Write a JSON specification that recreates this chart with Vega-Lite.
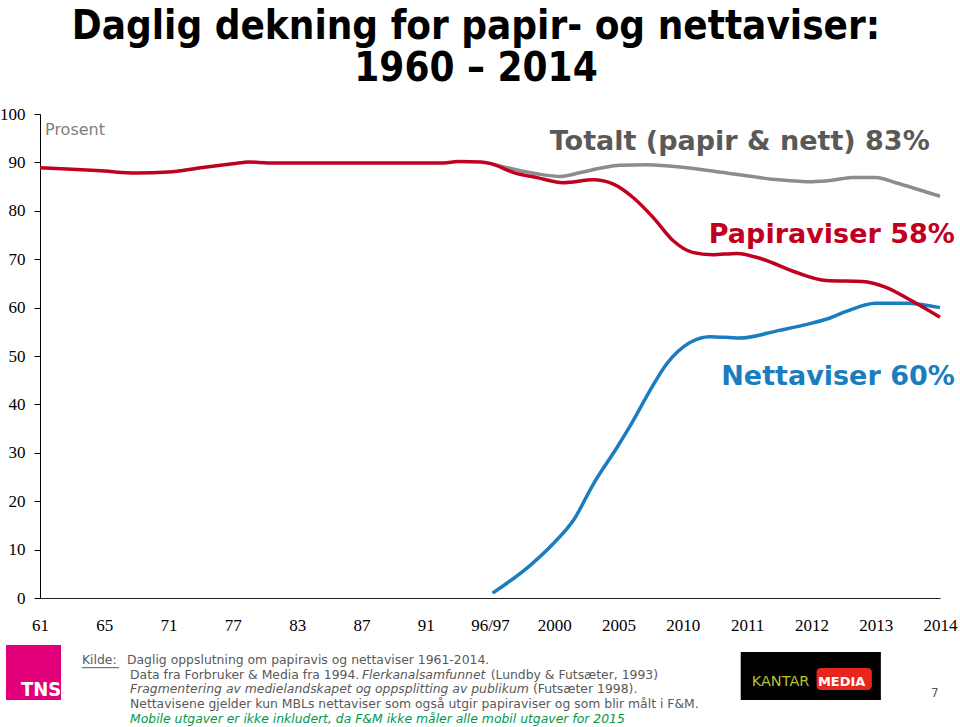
{
  "$schema": "https://vega.github.io/schema/vega-lite/v6.json",
  "width": 900,
  "height": 484,
  "autosize": {"type": "none"},
  "padding": {"left": 40, "top": 114, "right": 20, "bottom": 129},
  "background": "white",
  "config": {"view": {"stroke": null}, "axis": {"grid": false}},
  "title": {
    "text": ["Daglig dekning for papir- og nettaviser:", "1960 – 2014"],
    "anchor": "middle",
    "font": "DejaVu Sans Condensed",
    "fontSize": 40,
    "fontWeight": "bold",
    "color": "black",
    "lineHeight": 42,
    "offset": 16,
    "dx": -14
  },
  "datasets": {
    "series": [
      {"s": "Papir", "x": 0, "y": 88.9},
      {"s": "Papir", "x": 0.5, "y": 88.6},
      {"s": "Papir", "x": 1.0, "y": 88.2},
      {"s": "Papir", "x": 1.49, "y": 87.8},
      {"s": "Papir", "x": 2.0, "y": 88.0},
      {"s": "Papir", "x": 2.5, "y": 88.9},
      {"s": "Papir", "x": 3.0, "y": 89.7},
      {"s": "Papir", "x": 3.25, "y": 90.1},
      {"s": "Papir", "x": 3.55, "y": 89.9},
      {"s": "Papir", "x": 4.5, "y": 89.9},
      {"s": "Papir", "x": 5.5, "y": 89.9},
      {"s": "Papir", "x": 6.28, "y": 89.9},
      {"s": "Papir", "x": 6.5, "y": 90.2},
      {"s": "Papir", "x": 6.86, "y": 90.1},
      {"s": "Papir", "x": 7.0, "y": 89.8},
      {"s": "Papir", "x": 7.37, "y": 87.9},
      {"s": "Papir", "x": 7.75, "y": 86.8},
      {"s": "Papir", "x": 8.14, "y": 85.8},
      {"s": "Papir", "x": 8.61, "y": 86.4},
      {"s": "Papir", "x": 8.92, "y": 85.5},
      {"s": "Papir", "x": 9.23, "y": 82.7},
      {"s": "Papir", "x": 9.54, "y": 78.6},
      {"s": "Papir", "x": 9.85, "y": 73.8},
      {"s": "Papir", "x": 10.15, "y": 71.4},
      {"s": "Papir", "x": 10.46, "y": 70.9},
      {"s": "Papir", "x": 10.84, "y": 71.2},
      {"s": "Papir", "x": 11.24, "y": 70.0},
      {"s": "Papir", "x": 11.76, "y": 67.3},
      {"s": "Papir", "x": 12.23, "y": 65.6},
      {"s": "Papir", "x": 12.79, "y": 65.4},
      {"s": "Papir", "x": 13.16, "y": 64.2},
      {"s": "Papir", "x": 13.56, "y": 61.4},
      {"s": "Papir", "x": 14.0, "y": 58.0},
      {"s": "Totalt", "x": 7.0, "y": 89.8},
      {"s": "Totalt", "x": 7.37, "y": 88.6},
      {"s": "Totalt", "x": 7.75, "y": 87.6},
      {"s": "Totalt", "x": 8.1, "y": 87.1},
      {"s": "Totalt", "x": 8.41, "y": 87.9},
      {"s": "Totalt", "x": 8.75, "y": 88.9},
      {"s": "Totalt", "x": 9.02, "y": 89.4},
      {"s": "Totalt", "x": 9.44, "y": 89.5},
      {"s": "Totalt", "x": 10.06, "y": 88.9},
      {"s": "Totalt", "x": 10.68, "y": 87.8},
      {"s": "Totalt", "x": 11.5, "y": 86.4},
      {"s": "Totalt", "x": 12.01, "y": 86.0},
      {"s": "Totalt", "x": 12.32, "y": 86.3},
      {"s": "Totalt", "x": 12.63, "y": 86.9},
      {"s": "Totalt", "x": 13.0, "y": 86.9},
      {"s": "Totalt", "x": 13.31, "y": 85.8},
      {"s": "Totalt", "x": 14.0, "y": 83.0},
      {"s": "Nett", "x": 7.04, "y": 1.0},
      {"s": "Nett", "x": 7.63, "y": 6.8},
      {"s": "Nett", "x": 7.99, "y": 11.3},
      {"s": "Nett", "x": 8.3, "y": 16.1},
      {"s": "Nett", "x": 8.61, "y": 23.6},
      {"s": "Nett", "x": 8.98, "y": 31.2},
      {"s": "Nett", "x": 9.23, "y": 36.7},
      {"s": "Nett", "x": 9.49, "y": 42.9},
      {"s": "Nett", "x": 9.75, "y": 48.4},
      {"s": "Nett", "x": 10.11, "y": 52.8},
      {"s": "Nett", "x": 10.42, "y": 54.0},
      {"s": "Nett", "x": 10.88, "y": 53.7},
      {"s": "Nett", "x": 11.5, "y": 55.3},
      {"s": "Nett", "x": 12.01, "y": 56.8},
      {"s": "Nett", "x": 12.28, "y": 57.8},
      {"s": "Nett", "x": 12.54, "y": 59.2},
      {"s": "Nett", "x": 13.0, "y": 60.9},
      {"s": "Nett", "x": 13.47, "y": 60.9},
      {"s": "Nett", "x": 14.0, "y": 60.0}
    ]
  },
  "layer": [
    {
      "data": {"name": "series"},
      "transform": [{"filter": "datum.s === 'Nett'"}],
      "mark": {"type": "line", "stroke": "#1a7dc0", "strokeWidth": 3.5, "interpolate": "monotone"},
      "encoding": {
        "x": {"field": "x", "type": "quantitative", "scale": {"domain": [0, 14], "nice": false, "zero": false}, "title": null,
          "axis": {"values": [0,1,2,3,4,5,6,7,8,9,10,11,12,13,14],
            "labelExpr": "['61','65','71','77','83','87','91','96/97','2000','2005','2010','2011','2012','2013','2014'][datum.value]",
            "labelFont": "Liberation Serif", "labelFontSize": 17, "labelColor": "black",
            "ticks": false, "domainColor": "#222222", "domainWidth": 1, "labelPadding": 19,
            "labelOverlap": false, "labelBound": false, "labelFlush": false, "grid": false}},
        "y": {"field": "y", "type": "quantitative", "scale": {"domain": [0, 100], "nice": false}, "title": null,
          "axis": {"values": [0,10,20,30,40,50,60,70,80,90,100],
            "labelFont": "Liberation Serif", "labelFontSize": 17, "labelColor": "black",
            "ticks": true, "tickSize": 6, "tickColor": "black", "domainColor": "black", "labelPadding": 9,
            "grid": false, "labelFlush": false, "labelBound": false, "labelOverlap": false}}
      }
    },
    {
      "data": {"name": "series"},
      "transform": [{"filter": "datum.s === 'Totalt'"}],
      "mark": {"type": "line", "stroke": "#8c8c8c", "strokeWidth": 3.5, "interpolate": "monotone"},
      "encoding": {
        "x": {"field": "x", "type": "quantitative", "title": null},
        "y": {"field": "y", "type": "quantitative", "title": null}
      }
    },
    {
      "data": {"name": "series"},
      "transform": [{"filter": "datum.s === 'Papir'"}],
      "mark": {"type": "line", "stroke": "#c00020", "strokeWidth": 3.5, "interpolate": "monotone"},
      "encoding": {
        "x": {"field": "x", "type": "quantitative", "title": null},
        "y": {"field": "y", "type": "quantitative", "title": null}
      }
    },
    {
      "data": {"values": [{}]},
      "mark": {"type": "text", "text": "Prosent", "align": "left", "baseline": "middle", "font": "DejaVu Sans", "fontSize": 16, "color": "#808080"},
      "encoding": {
        "x": {"datum": 0.078, "type": "quantitative", "title": null},
        "y": {"datum": 96.7, "type": "quantitative", "title": null}
      }
    },
    {
      "data": {"values": [{}]},
      "mark": {"type": "text", "text": "Totalt (papir & nett) 83%", "align": "right", "baseline": "middle", "font": "DejaVu Sans", "fontWeight": "bold", "fontSize": 27, "color": "#595959"},
      "encoding": {
        "x": {"datum": 13.84, "type": "quantitative", "title": null},
        "y": {"datum": 94.3, "type": "quantitative", "title": null}
      }
    },
    {
      "data": {"values": [{}]},
      "mark": {"type": "text", "text": "Papiraviser 58%", "align": "right", "baseline": "middle", "font": "DejaVu Sans", "fontWeight": "bold", "fontSize": 27, "color": "#c00020"},
      "encoding": {
        "x": {"datum": 14.23, "type": "quantitative", "title": null},
        "y": {"datum": 75.0, "type": "quantitative", "title": null}
      }
    },
    {
      "data": {"values": [{}]},
      "mark": {"type": "text", "text": "Nettaviser 60%", "align": "right", "baseline": "middle", "font": "DejaVu Sans", "fontWeight": "bold", "fontSize": 27, "color": "#1a7dc0"},
      "encoding": {
        "x": {"datum": 14.23, "type": "quantitative", "title": null},
        "y": {"datum": 45.7, "type": "quantitative", "title": null}
      }
    },
    {
      "data": {"values": [{}]},
      "mark": {"type": "rect", "fill": "#e2007a"},
      "encoding": {
        "x": {"datum": -0.529, "type": "quantitative", "title": null},
        "x2": {"datum": 0.327},
        "y": {"datum": -9.71, "type": "quantitative", "title": null},
        "y2": {"datum": -21.07}
      }
    },
    {
      "data": {"values": [{}]},
      "mark": {"type": "text", "text": "TNS", "align": "center", "baseline": "middle", "font": "DejaVu Sans Condensed", "fontWeight": "bold", "fontSize": 20, "color": "white"},
      "encoding": {
        "x": {"datum": 0.016, "type": "quantitative", "title": null},
        "y": {"datum": -19.0, "type": "quantitative", "title": null}
      }
    },
    {
      "data": {"values": [{}]},
      "mark": {"type": "text", "text": "Kilde:", "align": "left", "baseline": "middle", "font": "DejaVu Sans", "fontSize": 12.4, "color": "#595959"},
      "encoding": {
        "x": {"datum": 0.653, "type": "quantitative", "title": null},
        "y": {"datum": -12.8, "type": "quantitative", "title": null}
      }
    },
    {
      "data": {"values": [{}]},
      "mark": {"type": "rule", "stroke": "#595959", "strokeWidth": 1},
      "encoding": {
        "x": {"datum": 0.653, "type": "quantitative", "title": null},
        "x2": {"datum": 1.23},
        "y": {"datum": -14.4, "type": "quantitative", "title": null}
      }
    },
    {
      "data": {"values": [{}]},
      "mark": {"type": "text", "text": "Daglig oppslutning om papiravis og nettaviser 1961-2014.", "align": "left", "baseline": "middle", "font": "DejaVu Sans", "fontSize": 12.4, "color": "#595959"},
      "encoding": {
        "x": {"datum": 1.353, "type": "quantitative", "title": null},
        "y": {"datum": -12.8, "type": "quantitative", "title": null}
      }
    },
    {
      "data": {"values": [{}]},
      "mark": {"type": "text", "text": "Data fra Forbruker & Media fra 1994.", "align": "left", "baseline": "middle", "font": "DejaVu Sans", "fontSize": 12.4, "color": "#595959"},
      "encoding": {
        "x": {"datum": 1.4, "type": "quantitative", "title": null},
        "y": {"datum": -15.9, "type": "quantitative", "title": null}
      }
    },
    {
      "data": {"values": [{}]},
      "mark": {"type": "text", "text": "Flerkanalsamfunnet", "align": "left", "baseline": "middle", "font": "DejaVu Sans", "fontStyle": "italic", "fontSize": 12.4, "color": "#595959"},
      "encoding": {
        "x": {"datum": 5.008, "type": "quantitative", "title": null},
        "y": {"datum": -15.9, "type": "quantitative", "title": null}
      }
    },
    {
      "data": {"values": [{}]},
      "mark": {"type": "text", "text": "(Lundby & Futsæter, 1993)", "align": "left", "baseline": "middle", "font": "DejaVu Sans", "fontSize": 12.4, "color": "#595959"},
      "encoding": {
        "x": {"datum": 7.01, "type": "quantitative", "title": null},
        "y": {"datum": -15.9, "type": "quantitative", "title": null}
      }
    },
    {
      "data": {"values": [{}]},
      "mark": {"type": "text", "text": "Fragmentering av medielandskapet og oppsplitting av publikum", "align": "left", "baseline": "middle", "font": "DejaVu Sans", "fontStyle": "italic", "fontSize": 12.4, "color": "#595959"},
      "encoding": {
        "x": {"datum": 1.4, "type": "quantitative", "title": null},
        "y": {"datum": -18.9, "type": "quantitative", "title": null}
      }
    },
    {
      "data": {"values": [{}]},
      "mark": {"type": "text", "text": "(Futsæter 1998).", "align": "left", "baseline": "middle", "font": "DejaVu Sans", "fontSize": 12.4, "color": "#595959"},
      "encoding": {
        "x": {"datum": 7.667, "type": "quantitative", "title": null},
        "y": {"datum": -18.9, "type": "quantitative", "title": null}
      }
    },
    {
      "data": {"values": [{}]},
      "mark": {"type": "text", "text": "Nettavisene gjelder kun  MBLs nettaviser som også utgir papiraviser og som blir målt i F&M.", "align": "left", "baseline": "middle", "font": "DejaVu Sans", "fontSize": 12.4, "color": "#595959"},
      "encoding": {
        "x": {"datum": 1.4, "type": "quantitative", "title": null},
        "y": {"datum": -21.9, "type": "quantitative", "title": null}
      }
    },
    {
      "data": {"values": [{}]},
      "mark": {"type": "text", "text": "Mobile utgaver er ikke inkludert, da F&M ikke måler alle mobil utgaver for 2015", "align": "left", "baseline": "middle", "font": "DejaVu Sans", "fontStyle": "italic", "fontSize": 12.4, "color": "#00994c"},
      "encoding": {
        "x": {"datum": 1.4, "type": "quantitative", "title": null},
        "y": {"datum": -24.9, "type": "quantitative", "title": null}
      }
    },
    {
      "data": {"values": [{}]},
      "mark": {"type": "rect", "fill": "black"},
      "encoding": {
        "x": {"datum": 10.9, "type": "quantitative", "title": null},
        "x2": {"datum": 13.08},
        "y": {"datum": -11.16, "type": "quantitative", "title": null},
        "y2": {"datum": -21.07}
      }
    },
    {
      "data": {"values": [{}]},
      "mark": {"type": "rect", "fill": "#e8261c", "cornerRadius": 4},
      "encoding": {
        "x": {"datum": 12.08, "type": "quantitative", "title": null},
        "x2": {"datum": 12.94},
        "y": {"datum": -14.46, "type": "quantitative", "title": null},
        "y2": {"datum": -19.0}
      }
    },
    {
      "data": {"values": [{}]},
      "mark": {"type": "text", "text": "KANTAR", "align": "left", "baseline": "middle", "font": "DejaVu Sans", "fontSize": 14.5, "color": "#b8c32a"},
      "encoding": {
        "x": {"datum": 11.07, "type": "quantitative", "title": null},
        "y": {"datum": -17.36, "type": "quantitative", "title": null}
      }
    },
    {
      "data": {"values": [{}]},
      "mark": {"type": "text", "text": "MEDIA", "align": "center", "baseline": "middle", "font": "DejaVu Sans", "fontWeight": "bold", "fontSize": 13, "color": "white"},
      "encoding": {
        "x": {"datum": 12.47, "type": "quantitative", "title": null},
        "y": {"datum": -17.36, "type": "quantitative", "title": null}
      }
    },
    {
      "data": {"values": [{}]},
      "mark": {"type": "text", "text": "7", "align": "center", "baseline": "middle", "font": "DejaVu Sans", "fontSize": 12, "color": "#595959"},
      "encoding": {
        "x": {"datum": 13.92, "type": "quantitative", "title": null},
        "y": {"datum": -19.6, "type": "quantitative", "title": null}
      }
    }
  ]
}
